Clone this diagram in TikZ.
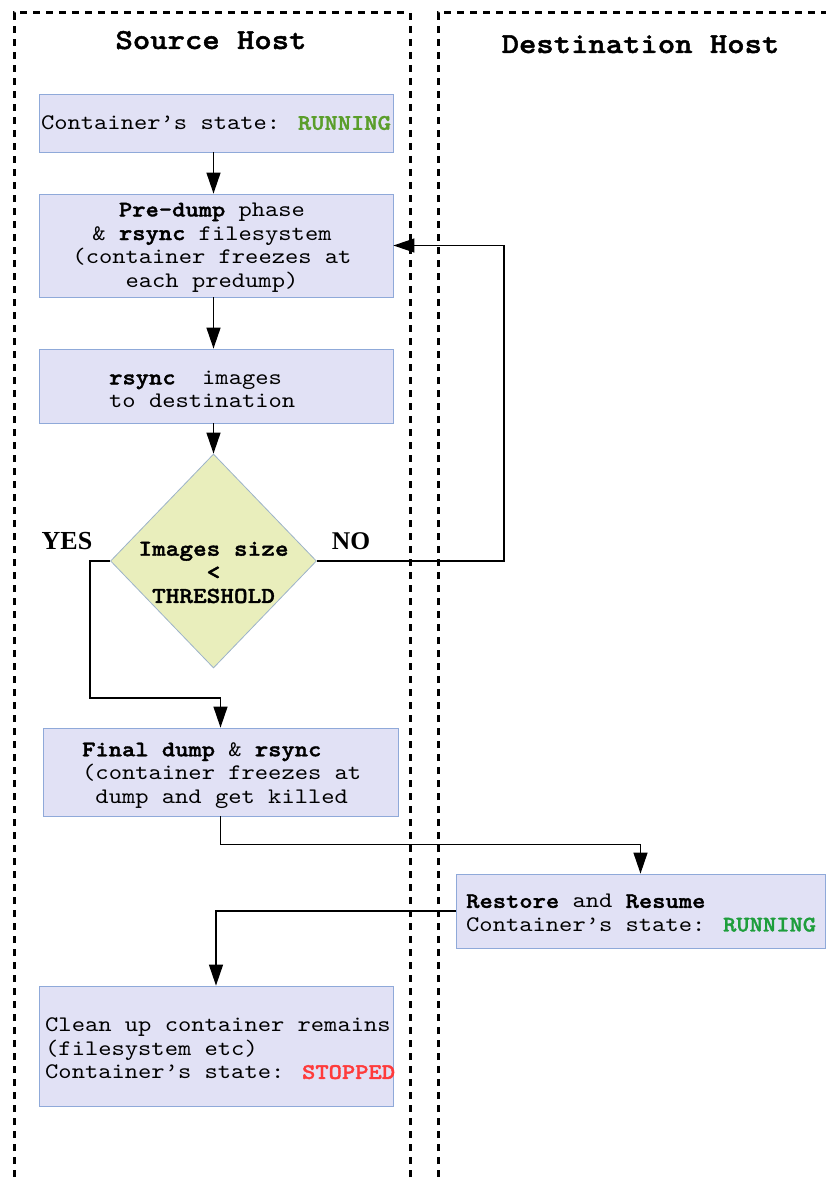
\documentclass[tikz,border=0pt]{standalone}
\usepackage{fontspec}
\newfontfamily\cour{lmmono10-regular.otf}[BoldFont=lmmonolt10-bold.otf, BoldFeatures={FakeBold=1.6, FakeStretch=1.14}, FakeStretch=1.14]
\newfontfamily\lserif{Liberation Serif}
\usetikzlibrary{shapes.geometric, arrows.meta}

\definecolor{boxfill}{HTML}{E1E1F5}
\definecolor{boxline}{HTML}{8FA9D9}
\definecolor{decfill}{HTML}{E9EEBC}
\definecolor{decline}{HTML}{9DB3C9}
\definecolor{rungreen}{HTML}{5A9E2B}
\definecolor{rungreenb}{HTML}{1E9E3C}
\definecolor{stopred}{HTML}{FF3B3B}

\begin{document}
\begin{tikzpicture}[x=1pt, y=-1pt,
  host/.style={line width=3pt, dash pattern=on 7pt off 6pt},
  stepbox/.style={rectangle, draw=boxline, fill=boxfill, line width=0.8pt, inner sep=0pt},
  decision/.style={diamond, draw=decline, fill=decfill, line width=0.8pt,
    minimum width=206pt, minimum height=214pt, inner sep=0pt},
  txt/.style={font=\cour\fontsize{22.2}{23.6}\selectfont, inner sep=0pt},
  title/.style={font=\cour\bfseries\fontsize{29}{32}\selectfont, inner sep=0pt},
  answer/.style={font=\lserif\bfseries\fontsize{26}{30}\selectfont, inner sep=0pt},
  arr/.style={draw, line width=1.3pt, -{Triangle[length=21pt, width=14pt]}}
]
\useasboundingbox (0,0) rectangle (826,1177);

% host lanes
\begin{scope}
  \clip (0,0) rectangle (826,1177);
  \draw[host] (14,1190) -- (14,13) -- (410,13) -- (410,1190);
  \draw[host] (438,1190) -- (438,13) -- (840,13);
\end{scope}
\node[title, anchor=base] (srcttl) at (211,49) {Source Host};
\node[title, anchor=base] (dstttl) at (640.5,53) {Destination Host};

% process boxes
\node[stepbox, minimum width=354pt, minimum height=58pt]  (b1) at (216,123) {};
\node[stepbox, minimum width=354pt, minimum height=103pt] (b2) at (216,245.5) {};
\node[stepbox, minimum width=354pt, minimum height=74pt]  (b3) at (216,386) {};
\node[decision] (d) at (213.5,561) {};
\node[stepbox, minimum width=355pt, minimum height=88pt]  (b5) at (220.5,772) {};
\node[stepbox, minimum width=369pt, minimum height=74pt]  (b6) at (640.5,911) {};
\node[stepbox, minimum width=354pt, minimum height=120pt] (b7) at (216,1046) {};

% box texts
\node[txt] (t1) at (216,123) {Container’s state: {\bfseries\color{rungreen}RUNNING}};
\node[txt, align=center] (t2) at (212,247.5)
  {{\bfseries Pre-dump} phase\\\& {\bfseries rsync} filesystem\\(container freezes at\\each predump)};
\node[txt, align=left, anchor=west] (t3) at (109,389.5)
  {{\bfseries rsync}\ \ images\\to destination};
\node[txt, align=center, font=\cour\bfseries\fontsize{22.8}{23.6}\selectfont] (t4) at (213.5,572.5)
  {Images size\ \\<\\THRESHOLD};
\node[txt, align=left, anchor=west] (t5) at (82,775.5)
  {{\bfseries Final dump} \& {\bfseries rsync}\\(container freezes at\\\ dump and get killed};
\node[txt, align=left, anchor=west] (t6) at (466,913)
  {{\bfseries Restore} and {\bfseries Resume}\\Container’s state: {\bfseries\color{rungreenb}RUNNING}};
\node[txt, align=left, anchor=west] (t7) at (45,1048.5)
  {Clean up container remains\\(filesystem etc)\\Container’s state: {\bfseries\color{stopred}STOPPED}};

% decision labels
\node[answer] (yes) at (67,541) {YES};
\node[answer, font=\lserif\bfseries\fontsize{25.5}{30}\selectfont] (no) at (351,541) {NO};

% connectors
\coordinate (noturn) at (504,245.5);
\coordinate (yesturn) at (90,698);
\draw[arr] (d.north |- b1.south) -- (d.north |- b2.north);
\draw[arr] (d.north |- b2.south) -- (d.north |- b3.north);
\draw[arr] (d.north |- b3.south) -- (d.north);
\draw[arr] (d.east) -| (noturn) -- (b2.east);
\draw[arr] (d.west) -| (yesturn) -| (b5.north);
\draw[arr] (b5.south) -- ++(0,28) -| (b6.north);
\draw[arr] (b6.west) -| (b7.north);
\end{tikzpicture}
\end{document}
